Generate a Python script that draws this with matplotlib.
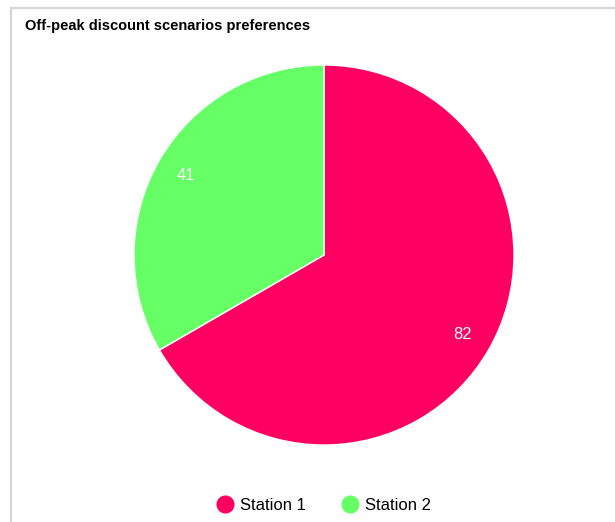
import matplotlib
matplotlib.use("Agg")
import matplotlib.pyplot as plt
from matplotlib.lines import Line2D
from matplotlib.patches import Rectangle

plt.rcParams['font.family'] = ['Liberation Sans', 'DejaVu Sans']

# data
labels = ["Station 1", "Station 2"]
values = [82, 41]
colors = ["#FF0062", "#66FF66"]
title = "Off-peak discount scenarios preferences"

W, H = 615, 522
fig = plt.figure(figsize=(W / 100, H / 100), dpi=100)

# light grey card border (left / top / right)
fig.patches.append(Rectangle((10.5 / W, -0.05), (W - 8) / W, 1 - 7.5 / H + 0.05,
                             transform=fig.transFigure, fill=False,
                             edgecolor="#d6d6d6", linewidth=1.6))

ax = fig.add_axes([(324 - 190) / W, (H - 445) / H, 380 / W, 380 / H])
wedges, texts = ax.pie(values, colors=colors, startangle=90, counterclock=False,
                       radius=1, labels=[str(v) for v in values], labeldistance=0.84,
                       wedgeprops=dict(edgecolor="white", linewidth=1),
                       textprops=dict(color="white", fontsize=12))
for t in texts:
    t.set_ha("center")
    t.set_va("center")
ax.set_xlim(-1, 1)
ax.set_ylim(-1, 1)
ax.set_aspect("equal")
ax.axis("off")

fig.text(25 / W, 1 - 26 / H, title, fontsize=10.5, fontweight="bold",
         ha="left", va="center")

handles = [Line2D([], [], marker="o", linestyle="", markersize=12,
                  markerfacecolor=c, markeredgecolor=c) for c in colors]
fig.legend(handles, labels, loc="center", bbox_to_anchor=(323 / W, 1 - 505 / H),
           ncol=2, frameon=False, fontsize=12, handletextpad=0.3,
           columnspacing=2.0, handlelength=1.2)

fig.savefig("out.png", dpi=100)
